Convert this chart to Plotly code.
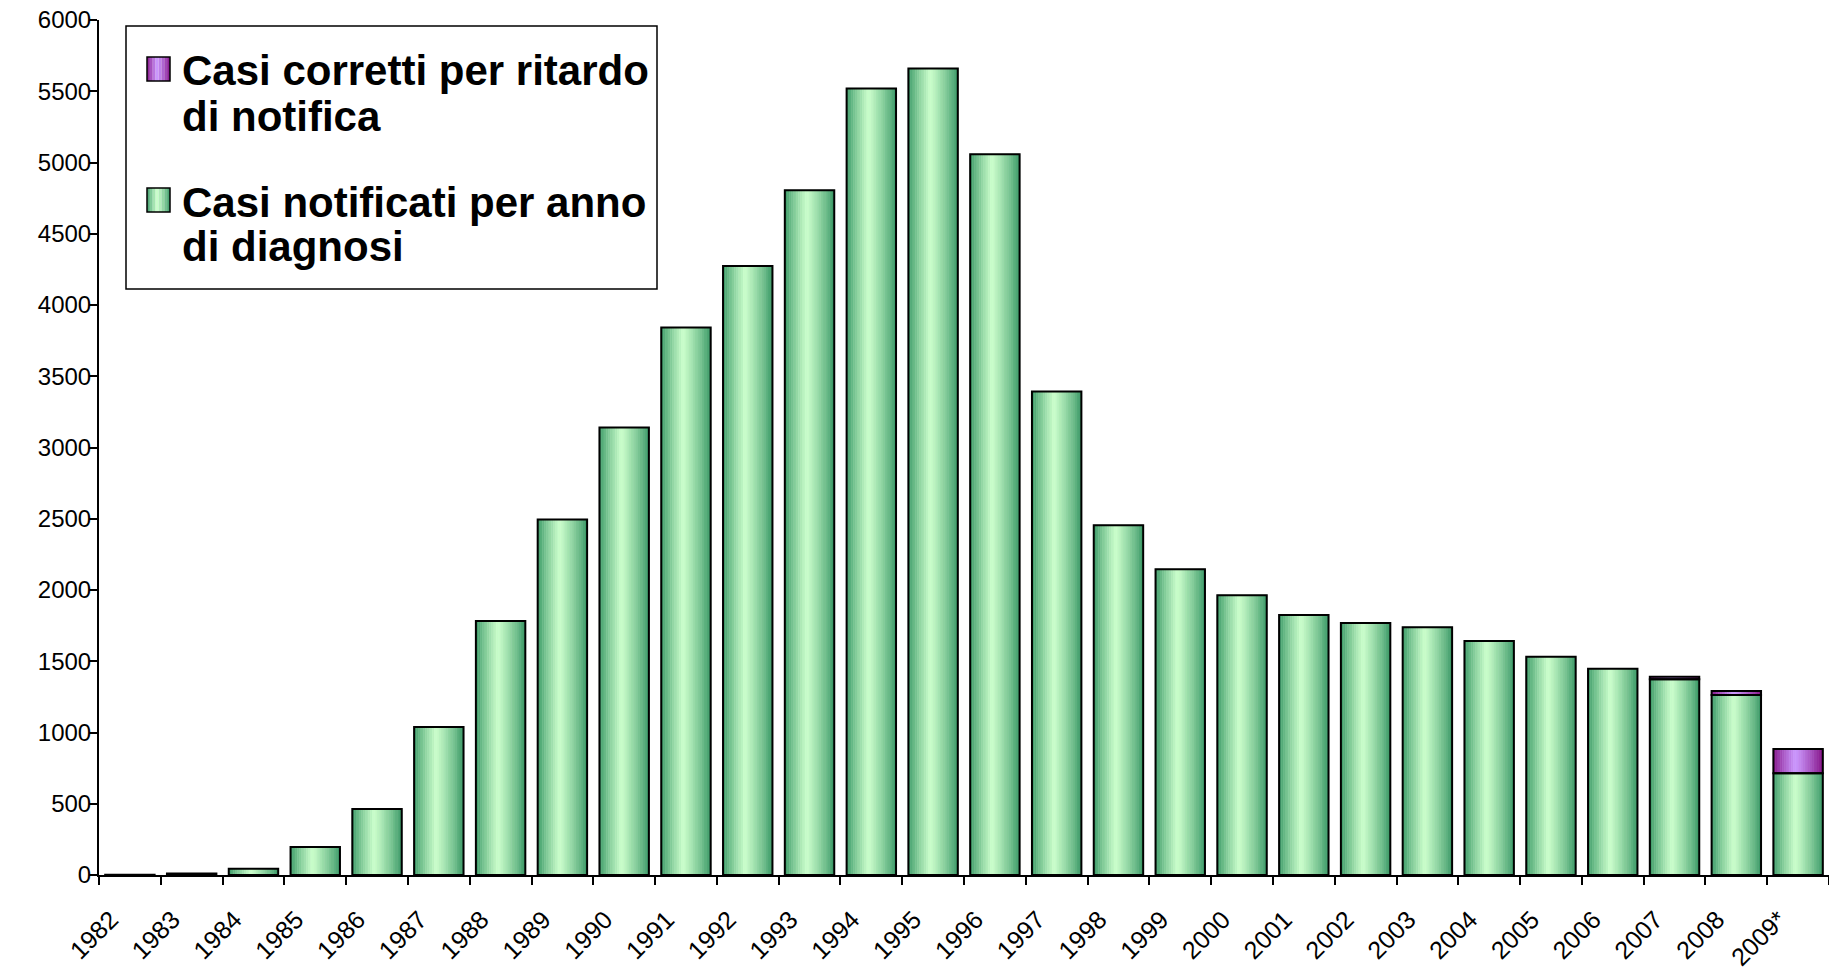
import plotly.graph_objects as go

# ---------------- data ----------------
years = ['1982', '1983', '1984', '1985', '1986', '1987', '1988', '1989', '1990',
         '1991', '1992', '1993', '1994', '1995', '1996', '1997', '1998', '1999',
         '2000', '2001', '2002', '2003', '2004', '2005', '2006', '2007', '2008',
         '2009*']
notified = [1, 10, 44, 196, 463, 1039, 1782, 2495, 3140, 3842, 4274, 4805, 5520,
            5660, 5058, 3393, 2455, 2146, 1964, 1824, 1768, 1739, 1642, 1531,
            1447, 1373, 1263, 714]
corrected = [None] * 25 + [19, 28, 170]
y_ticks = [0, 500, 1000, 1500, 2000, 2500, 3000, 3500, 4000, 4500, 5000, 5500, 6000]

name_corr = ['Casi corretti per ritardo', 'di notifica']
name_notif = ['Casi notificati per anno', 'di diagnosi']

# ---------------- style ----------------
PAGE_W, PAGE_H = 1829, 972
W, H = PAGE_W, PAGE_H
PL, PT, PB_Y = 99, 20, 875   # plot area in page pixels: left, top, bottom
L, T = PL, PT
B = PAGE_H - PB_Y
R = 0
BAR_W = 0.80
N_STRIPS = 22
FONT = 'Liberation Sans, Arial, sans-serif'

GREEN_DARK, GREEN_LIGHT = (51, 148, 98), (204, 255, 204)
PURP_DARK, PURP_LIGHT = (128, 10, 128), (204, 153, 255)


def grad(dark, light, t, peak=0.45):
    f = 1 - abs(t - peak) / (peak if t < peak else 1 - peak)
    f = max(0.0, min(1.0, f)) ** 0.8
    c = [round(d + (l - d) * f) for d, l in zip(dark, light)]
    return f'rgb({c[0]},{c[1]},{c[2]})'


fig = go.Figure()

base_corr = [n if c is not None else None for n, c in zip(notified, corrected)]

sw = BAR_W / N_STRIPS
for k in range(N_STRIPS):
    t = (k + 0.5) / N_STRIPS
    off = -BAR_W / 2 + k * sw
    cg = grad(GREEN_DARK, GREEN_LIGHT, t)
    fig.add_trace(go.Bar(x=years, y=notified, width=sw, offset=off,
                         marker=dict(color=cg, line=dict(color=cg, width=0.6)),
                         showlegend=False, hoverinfo='skip'))
    cp = grad(PURP_DARK, PURP_LIGHT, t)
    fig.add_trace(go.Bar(x=years, y=corrected, base=base_corr, width=sw, offset=off,
                         marker=dict(color=cp, line=dict(color=cp, width=0.6)),
                         showlegend=False, hoverinfo='skip'))

# outlines
fig.add_trace(go.Bar(x=years, y=notified, width=BAR_W, offset=-BAR_W / 2,
                     marker=dict(color='rgba(0,0,0,0)', line=dict(color='black', width=2)),
                     name=' '.join(name_notif), showlegend=False))
fig.add_trace(go.Bar(x=years, y=corrected, base=base_corr, width=BAR_W, offset=-BAR_W / 2,
                     marker=dict(color='rgba(0,0,0,0)', line=dict(color='black', width=2)),
                     name=' '.join(name_corr), showlegend=False))

# ---------------- custom legend (page pixel positions) ----------------
pw = PAGE_W - PL - R
ph = PB_Y - PT


def px_x(px):
    return (px - PL) / pw


def px_y(py):
    return (PB_Y - py) / ph


shapes = [dict(type='rect', xref='paper', yref='paper',
               x0=px_x(126), x1=px_x(657), y0=px_y(289), y1=px_y(26),
               line=dict(color='black', width=1.5), fillcolor='white', layer='above')]


def legend_symbol(x0, y0, x1, y1, dark, light):
    n = 8
    out = []
    for k in range(n):
        t = (k + 0.5) / n
        c = grad(dark, light, t)
        out.append(dict(type='rect', xref='paper', yref='paper',
                        x0=px_x(x0 + (x1 - x0) * k / n), x1=px_x(x0 + (x1 - x0) * (k + 1) / n),
                        y0=px_y(y1), y1=px_y(y0), line=dict(width=0), fillcolor=c, layer='above'))
    out.append(dict(type='rect', xref='paper', yref='paper', x0=px_x(x0), x1=px_x(x1),
                    y0=px_y(y1), y1=px_y(y0), line=dict(color='black', width=1.5),
                    fillcolor='rgba(0,0,0,0)', layer='above'))
    return out


shapes += legend_symbol(147, 57, 170, 81, PURP_DARK, PURP_LIGHT)
shapes += legend_symbol(147, 188, 170, 212, GREEN_DARK, GREEN_LIGHT)

annotations = []
LEG_FS = 42
for text, yc in [(name_corr[0], 71), (name_corr[1], 117), (name_notif[0], 202), (name_notif[1], 247)]:
    annotations.append(dict(text=f'<b>{text}</b>', xref='paper', yref='paper',
                            x=px_x(180), y=px_y(yc), xanchor='left', yanchor='middle',
                            showarrow=False, font=dict(family=FONT, size=LEG_FS, color='black')))

fig.update_layout(
    width=W, height=H,
    margin=dict(l=L, r=R, t=T, b=B, autoexpand=False),
    barmode='overlay',
    plot_bgcolor='white', paper_bgcolor='white',
    font=dict(family=FONT, size=22, color='black'),
    shapes=shapes, annotations=annotations,
    showlegend=False,
    xaxis=dict(type='category', categoryorder='array', categoryarray=years,
               range=[-0.5, len(years) - 0.5],
               showline=True, linecolor='black', linewidth=2,
               ticks='outside', tickson='boundaries', ticklen=8, tickwidth=2, tickcolor='black',
               tickangle=-45, tickfont=dict(family=FONT, size=25, color='black'),
               ticklabelstandoff=18, ticklabelshift=-19, automargin=False,
               ticklabeloverflow='allow',
               showgrid=False, zeroline=False),
    yaxis=dict(range=[0, 6000], tickvals=y_ticks,
               showline=True, linecolor='black', linewidth=2,
               ticks='outside', ticklen=8, tickwidth=2, tickcolor='black',
               tickfont=dict(family=FONT, size=24, color='black'),
               ticklabelstandoff=-7, automargin=False,
               ticklabeloverflow='allow',
               showgrid=False, zeroline=False),
)

fig.write_html('out.html',
               config={'displayModeBar': False},
               post_script="document.body.style.margin='0';document.body.style.overflow='hidden';")
